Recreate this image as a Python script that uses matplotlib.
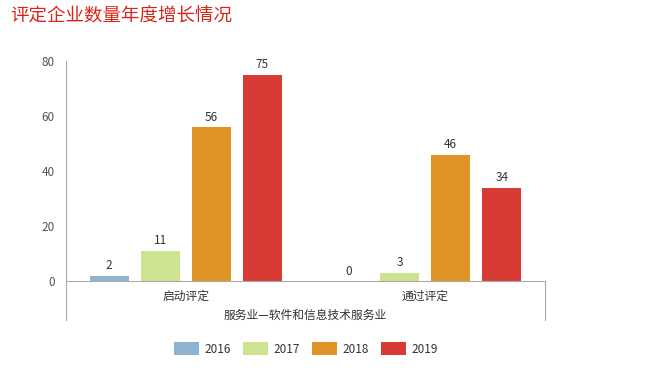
import matplotlib.pyplot as plt
import numpy as np
from matplotlib.lines import Line2D
from matplotlib.patches import Patch

plt.rcParams['font.family'] = ['Noto Sans CJK SC', 'DejaVu Sans']

categories = ['启动评定', '通过评定']
group_label = '服务业—软件和信息技术服务业'
years = ['2016', '2017', '2018', '2019']
values = {
    '2016': [2, 0],
    '2017': [11, 3],
    '2018': [56, 46],
    '2019': [75, 34],
}
colors = ['#8db3d3', '#cce38f', '#e09427', '#d83b36']
title = '评定企业数量年度增长情况'

W, H = 645, 371
fig = plt.figure(figsize=(W / 100, H / 100), dpi=100)
ax = fig.add_axes([66 / W, (H - 281) / H, (545 - 66) / W, 220 / H])

x = np.arange(len(categories))
bar_w = 39 / 239.5
step = 51 / 239.5
for i, (yr, col) in enumerate(zip(years, colors)):
    xs = x + (i - 1.5) * step
    bars = ax.bar(xs, values[yr], width=bar_w, color=col, zorder=2)
    for b, v in zip(bars, values[yr]):
        ax.annotate(str(v), (b.get_x() + b.get_width() / 2, v),
                    xytext=(0, 2.5), textcoords='offset points',
                    ha='center', va='bottom', fontsize=8.5, color='#333333')

ax.set_xlim(-0.5, 1.5)
ax.set_ylim(0, 80)
ax.set_yticks([0, 20, 40, 60, 80])
ax.tick_params(axis='y', length=0, labelsize=8.5, labelcolor='#555555', pad=8)
ax.set_xticks([])
for s in ['top', 'right', 'left']:
    ax.spines[s].set_visible(False)
ax.spines['bottom'].set_color('#aaaaaa')
ax.spines['bottom'].set_linewidth(0.8)

# category axis box lines
ext = -(320 - 281) / 220
ax.add_line(Line2D([0, 0], [1, ext], transform=ax.transAxes, color='#aaaaaa',
                   lw=0.8, clip_on=False))
ax.add_line(Line2D([1, 1], [0, ext], transform=ax.transAxes, color='#aaaaaa',
                   lw=0.8, clip_on=False))

for xi, cat in zip(x, categories):
    ax.text(xi, -15 / 220 * 80, cat, ha='center', va='center', fontsize=8.5,
            color='#333333')
ax.text(0.5, -34 / 220, group_label, transform=ax.transAxes, ha='center',
        va='center', fontsize=8.5, color='#333333')

fig.text(10 / W, 1 - 17 / H, title, ha='left', va='center', fontsize=13.3,
         color='#d9261c')

handles = [Patch(facecolor=c, edgecolor='none') for c in colors]
fig.legend(handles, years, loc='center', bbox_to_anchor=(306 / W, 1 - 349 / H),
           ncol=4, frameon=False, fontsize=8.5, handlelength=2.1,
           handleheight=1.2, columnspacing=1.0, handletextpad=0.5,
           labelcolor='#333333')

fig.savefig('out.png', dpi=100)
